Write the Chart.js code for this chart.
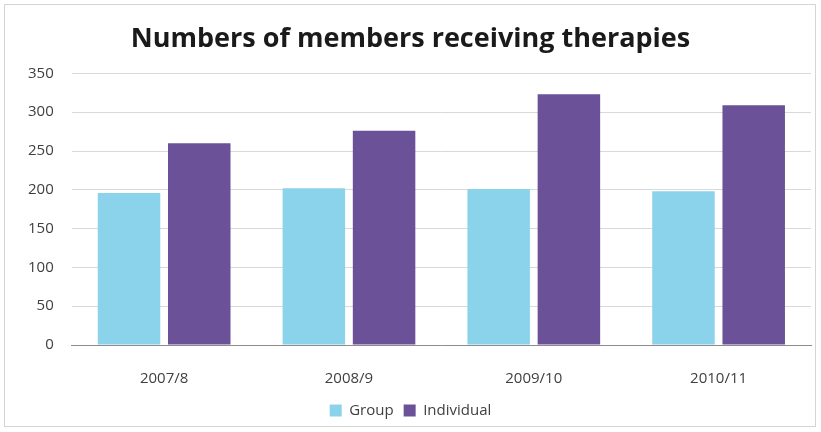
<!DOCTYPE html>
<html>
<head>
<meta charset="utf-8">
<script src="https://cdn.jsdelivr.net/npm/chart.js@4"></script>
<style>
  body { margin: 0; background: #fff; }
  .frame { position: absolute; left: 4px; top: 4px; width: 812px; height: 423px; border: 1px solid #d4d4d4; box-sizing: border-box; }
  .wrap { position: absolute; left: 0; top: 0; width: 821px; height: 432px; }
</style>
</head>
<body>
<div class="frame"></div>
<div class="wrap"><canvas id="chart"></canvas></div>
<script>
const seasons = ['2007/8', '2008/9', '2009/10', '2010/11'];
const groupMembers = [196, 202, 201, 198];
const individualMembers = [260, 276, 323, 309];
const yTicks = [0, 50, 100, 150, 200, 250, 300, 350];

document.addEventListener("DOMContentLoaded", function() {
  Chart.defaults.font.family = '"Open Sans", Lato, sans-serif';
  Chart.defaults.color = '#404040';

  const ctx = document.getElementById('chart').getContext('2d');
  const chart = new Chart(ctx, {
    type: 'bar',
    data: {
      labels: seasons,
      datasets: [{
        label: 'Group',
        data: groupMembers,
        backgroundColor: '#8bd3ea',
        categoryPercentage: 0.76,
        barPercentage: 0.89
      }, {
        label: 'Individual',
        data: individualMembers,
        backgroundColor: '#6b5197',
        categoryPercentage: 0.76,
        barPercentage: 0.89
      }]
    },
    options: {
      responsive: true,
      maintainAspectRatio: false,
      animation: false,
      layout: { padding: { left: 10, right: 10, top: 8, bottom: 4 } },
      plugins: {
        title: {
          display: true,
          text: 'Numbers of members receiving therapies',
          color: '#1a1a1a',
          font: { size: 27, weight: 'bold' },
          padding: { top: 15, bottom: 18 }
        },
        legend: {
          position: 'bottom',
          labels: {
            boxWidth: 12,
            boxHeight: 12,
            padding: 10,
            color: '#404040',
            font: { size: 15 }
          }
        },
        tooltip: { enabled: false }
      },
      scales: {
        x: {
          grid: { display: false },
          border: { color: '#8c8c8c' },
          ticks: { font: { size: 15 }, color: '#404040', padding: 17 },
          // pull the axis a bit closer to the legend
          afterFit: axis => { axis.height -= 12; }
        },
        y: {
          min: 0,
          max: 350,
          afterBuildTicks: axis => { axis.ticks = yTicks.map(v => ({ value: v })); },
          grid: { color: '#d9d9d9', drawTicks: false },
          border: { display: false },
          ticks: { font: { size: 15 }, color: '#404040', padding: 18 }
        }
      }
    }
  });
});
</script>
</body>
</html>
